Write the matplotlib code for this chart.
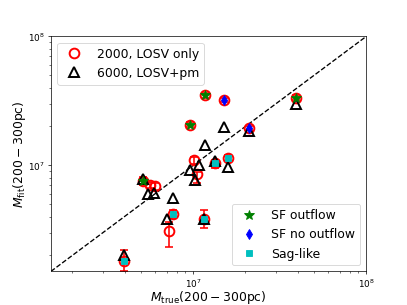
import numpy as np
import matplotlib
matplotlib.use('Agg')
import matplotlib.pyplot as plt

# True and fitted masses within 200-300 pc
m_true = [1.16e7, 1.50e7, 9.6e6, 2.09e7, 3.94e7, 1.34e7, 1.58e7, 5.09e6,
          5.64e6, 5.97e6, 7.63e6, 7.27e6, 3.99e6, 1.147e7, 1.004e7, 1.055e7]
m_fit_2000 = [3.49e7, 3.23e7, 2.07e7, 1.94e7, 3.35e7, 1.046e7, 1.147e7, 7.55e6,
              7.0e6, 6.88e6, 4.17e6, 3.08e6, 1.82e6, 3.86e6, 1.093e7, 8.62e6]
err_lo = [1.5e6, 1.2e6, 1.0e6, 0.8e6, 1.5e6, 0.9e6, 0.6e6, 0.5e6,
          0.4e6, 0.4e6, 0.3e6, 0.78e6, 0.3e6, 0.63e6, 0.7e6, 1.33e6]
err_hi = [1.5e6, 1.2e6, 1.0e6, 0.8e6, 1.5e6, 0.6e6, 0.6e6, 0.5e6,
          0.4e6, 0.4e6, 0.3e6, 0.55e6, 0.37e6, 0.67e6, 0.7e6, 0.3e6]
m_true_6000 = [1.16e7, 1.50e7, 9.6e6, 2.09e7, 3.94e7, 1.34e7, 1.58e7, 5.09e6,
               5.5e6, 5.9e6, 7.63e6, 7.0e6, 3.99e6, 1.147e7, 1.073e7, 1.027e7]
m_fit_6000 = [1.447e7, 1.98e7, 9.15e6, 1.835e7, 3.01e7, 1.074e7, 9.65e6, 7.88e6,
              5.93e6, 6.10e6, 5.52e6, 3.86e6, 2.0e6, 3.8e6, 1.0e7, 7.75e6]
kind = ['sf_out', 'sf_noout', 'sf_out', 'sf_noout', 'sf_out', 'sag', 'sag', 'sf_out',
        '', '', 'sag', '', 'sag', 'sag', '', '']

lim = (1.5e6, 1e8)

fig, ax = plt.subplots(figsize=(6.4, 4.8), dpi=63.6)

# error bars for the 2000-star fits, then the markers themselves
ax.errorbar(m_true, m_fit_2000, yerr=[err_lo, err_hi], fmt='none', ecolor='red',
            elinewidth=1.8, capsize=4, capthick=1.8, zorder=2)
h1, = ax.plot(m_true, m_fit_2000, 'o', mfc='none', mec='red', ms=11, mew=2.2,
              ls='none', zorder=2)
h2, = ax.plot(m_true_6000, m_fit_6000, '^', mfc='none', mec='black', ms=11, mew=2.2,
              ls='none', zorder=3)

styles = {'sf_out': ('*', 'green', 11, 'SF outflow'),
          'sf_noout': ('d', 'blue', 8, 'SF no outflow'),
          'sag': ('s', 'c', 7, 'Sag-like')}
handles = []
for k, (mk, col, ms, lab) in styles.items():
    xs = [x for x, t in zip(m_true, kind) if t == k]
    ys = [y for y, t in zip(m_fit_2000, kind) if t == k]
    h, = ax.plot(xs, ys, mk, color=col, ms=ms, ls='none', label=lab, zorder=4)
    handles.append(h)

ax.plot(lim, lim, 'k--', lw=1.5, zorder=1)
ax.set_xscale('log')
ax.set_yscale('log')
ax.set_xlim(lim)
ax.set_ylim(lim)
ax.set_xlabel(r'$M_{\rm true}(200-300$pc)', fontsize=14, labelpad=-1)
ax.set_ylabel(r'$M_{\rm fit}(200-300$pc)', fontsize=14, labelpad=0)

leg1 = ax.legend([h1, h2], ['2000, LOSV only', '6000, LOSV+pm'], loc='upper left',
                 fontsize=14)
ax.add_artist(leg1)
ax.legend(handles=handles, loc='lower right', fontsize=14)

fig.savefig('out.png', dpi=63.6)
